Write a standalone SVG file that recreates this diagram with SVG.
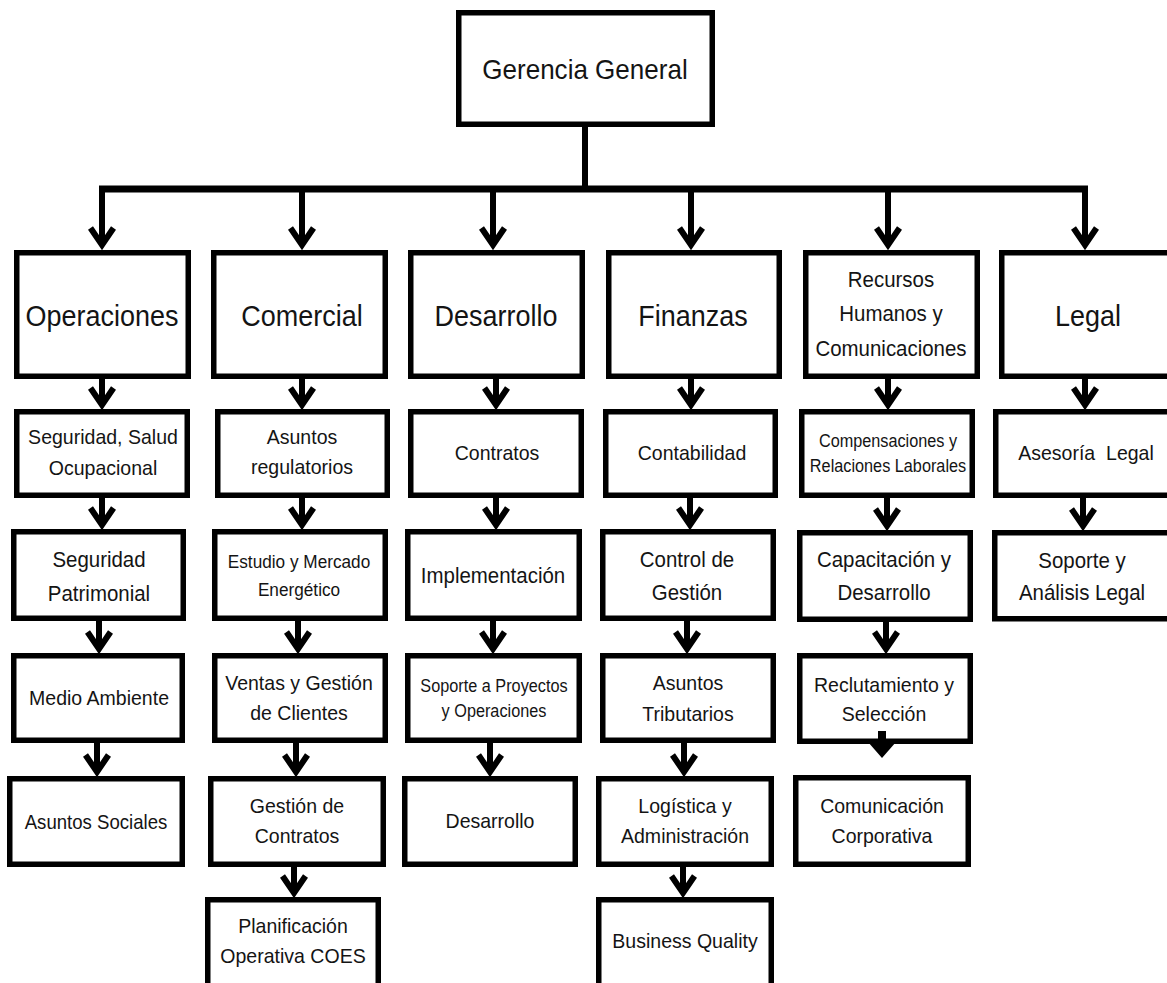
<svg xmlns="http://www.w3.org/2000/svg" width="1167" height="983" viewBox="0 0 1167 983">
  <style>
    .box { fill: #ffffff; stroke: #000000; stroke-width: 5.5; }
    .t { font-family: "Liberation Sans", Arial, sans-serif; fill: #141414; text-anchor: middle; }
    .f29 { font-size: 29px; }
    .f28 { font-size: 28px; }
    .f22 { font-size: 22px; }
    .f21 { font-size: 21px; }
    .f20 { font-size: 20px; }
    .f18 { font-size: 18.5px; }
    .f17 { font-size: 17.5px; }
    .bus { stroke: #000000; stroke-width: 7; fill: none; }
    .link { stroke: #000000; stroke-width: 6; fill: none; marker-end: url(#chev); }
  </style>
  <defs>
    <marker id="chev" markerUnits="userSpaceOnUse" orient="auto" refX="0" refY="0" markerWidth="30" markerHeight="30" viewBox="-20 -15 24 30" overflow="visible">
      <path d="M-17,-11.5 L0,0 L-17,11.5" fill="none" stroke="#000000" stroke-width="6"/>
    </marker>
  </defs>
  <rect width="1167" height="983" fill="#ffffff"/>

  <!-- top -->
  <g id="gerencia-general">
    <rect class="box" x="458.75" y="12.75" width="253.5" height="111.5"/>
    <text class="t f28" transform="translate(585 79) scale(.93 1)">Gerencia General</text>
  </g>

  <!-- level 1 -->
  <g id="operaciones">
    <rect class="box" x="16.75" y="252.75" width="171.5" height="123.5"/>
    <text class="t f29" transform="translate(102 326) scale(.93 1)">Operaciones</text>
  </g>
  <g id="comercial">
    <rect class="box" x="213.75" y="252.75" width="171.5" height="123.5"/>
    <text class="t f29" transform="translate(302 326) scale(.93 1)">Comercial</text>
  </g>
  <g id="desarrollo">
    <rect class="box" x="410.75" y="252.75" width="171.5" height="123.5"/>
    <text class="t f29" transform="translate(496 326) scale(.93 1)">Desarrollo</text>
  </g>
  <g id="finanzas">
    <rect class="box" x="608.75" y="252.75" width="170.5" height="123.5"/>
    <text class="t f29" transform="translate(693 326) scale(.93 1)">Finanzas</text>
  </g>
  <g id="rrhh">
    <rect class="box" x="805.75" y="252.75" width="171.5" height="123.5"/>
    <text class="t f22" transform="translate(891 287) scale(.93 1)"><tspan x="0">Recursos</tspan><tspan x="0" dy="34.5">Humanos y</tspan><tspan x="0" dy="34.5">Comunicaciones</tspan></text>
  </g>
  <g id="legal">
    <rect class="box" x="1001.75" y="252.75" width="171.5" height="123.5"/>
    <text class="t f29" transform="translate(1088 326) scale(.93 1)">Legal</text>
  </g>

  <!-- level 2 -->
  <g id="seguridad-salud">
    <rect class="box" x="16.75" y="411.75" width="170.5" height="83.5"/>
    <text class="t f21" transform="translate(103 444) scale(.93 1)"><tspan x="0">Seguridad, Salud</tspan><tspan x="0" dy="31">Ocupacional</tspan></text>
  </g>
  <g id="asuntos-regulatorios">
    <rect class="box" x="217.75" y="411.75" width="169.5" height="83.5"/>
    <text class="t f21" transform="translate(302 444) scale(.93 1)"><tspan x="0">Asuntos</tspan><tspan x="0" dy="30">regulatorios</tspan></text>
  </g>
  <g id="contratos">
    <rect class="box" x="410.75" y="411.75" width="170.5" height="83.5"/>
    <text class="t f21" transform="translate(497 460) scale(.93 1)">Contratos</text>
  </g>
  <g id="contabilidad">
    <rect class="box" x="605.75" y="411.75" width="169.5" height="83.5"/>
    <text class="t f21" transform="translate(692 460) scale(.93 1)">Contabilidad</text>
  </g>
  <g id="compensaciones">
    <rect class="box" x="801.75" y="411.75" width="170.5" height="83.5"/>
    <text class="t f17" transform="translate(888 447) scale(.93 1)"><tspan x="0">Compensaciones y</tspan><tspan x="0" dy="25">Relaciones Laborales</tspan></text>
  </g>
  <g id="asesoria-legal">
    <rect class="box" x="995.75" y="411.75" width="175" height="83.5"/>
    <text class="t f21" transform="translate(1086 460) scale(.93 1)" style="white-space:pre">Asesoría  Legal</text>
  </g>

  <!-- level 3 -->
  <g id="seguridad-patrimonial">
    <rect class="box" x="13.75" y="531.75" width="169.5" height="86.5"/>
    <text class="t f22" transform="translate(99 567) scale(.93 1)"><tspan x="0">Seguridad</tspan><tspan x="0" dy="34">Patrimonial</tspan></text>
  </g>
  <g id="estudio-mercado">
    <rect class="box" x="214.75" y="531.75" width="170.5" height="86.5"/>
    <text class="t f18" transform="translate(299 568) scale(.93 1)"><tspan x="0">Estudio y Mercado</tspan><tspan x="0" dy="28">Energético</tspan></text>
  </g>
  <g id="implementacion">
    <rect class="box" x="407.75" y="531.75" width="171.5" height="86.5"/>
    <text class="t f22" transform="translate(493 583) scale(.93 1)">Implementación</text>
  </g>
  <g id="control-gestion">
    <rect class="box" x="602.75" y="531.75" width="170.5" height="86.5"/>
    <text class="t f22" transform="translate(687 567) scale(.93 1)"><tspan x="0">Control de</tspan><tspan x="0" dy="33">Gestión</tspan></text>
  </g>
  <g id="capacitacion">
    <rect class="box" x="799.75" y="532.75" width="170.5" height="86.5"/>
    <text class="t f22" transform="translate(884 567) scale(.93 1)"><tspan x="0">Capacitación y</tspan><tspan x="0" dy="33">Desarrollo</tspan></text>
  </g>
  <g id="soporte-analisis-legal">
    <rect class="box" x="994.75" y="532.75" width="176" height="86"/>
    <text class="t f22" transform="translate(1082 568) scale(.93 1)"><tspan x="0">Soporte y</tspan><tspan x="0" dy="32">Análisis Legal</tspan></text>
  </g>

  <!-- level 4 -->
  <g id="medio-ambiente">
    <rect class="box" x="13.75" y="655.75" width="168.5" height="84.5"/>
    <text class="t f21" transform="translate(99 705) scale(.93 1)">Medio Ambiente</text>
  </g>
  <g id="ventas">
    <rect class="box" x="214.75" y="655.75" width="170.5" height="84.5"/>
    <text class="t f21" transform="translate(299 690) scale(.93 1)"><tspan x="0">Ventas y Gestión</tspan><tspan x="0" dy="30">de Clientes</tspan></text>
  </g>
  <g id="soporte-proyectos">
    <rect class="box" x="407.75" y="655.75" width="171.5" height="84.5"/>
    <text class="t f17" transform="translate(494 692) scale(.93 1)"><tspan x="0">Soporte a Proyectos</tspan><tspan x="0" dy="25">y Operaciones</tspan></text>
  </g>
  <g id="asuntos-tributarios">
    <rect class="box" x="602.75" y="655.75" width="170.5" height="84.5"/>
    <text class="t f21" transform="translate(688 690) scale(.93 1)"><tspan x="0">Asuntos</tspan><tspan x="0" dy="31">Tributarios</tspan></text>
  </g>
  <g id="reclutamiento">
    <rect class="box" x="799.75" y="655.75" width="170.5" height="85.5"/>
    <text class="t f21" transform="translate(884 692) scale(.93 1)"><tspan x="0">Reclutamiento y</tspan><tspan x="0" dy="29">Selección</tspan></text>
  </g>

  <!-- level 5 -->
  <g id="asuntos-sociales">
    <rect class="box" x="9.75" y="778.75" width="172.5" height="85.5"/>
    <text class="t f20" transform="translate(96 829) scale(.93 1)">Asuntos Sociales</text>
  </g>
  <g id="gestion-contratos">
    <rect class="box" x="210.75" y="778.75" width="172.5" height="85.5"/>
    <text class="t f21" transform="translate(297 813) scale(.93 1)"><tspan x="0">Gestión de</tspan><tspan x="0" dy="30">Contratos</tspan></text>
  </g>
  <g id="desarrollo-sub">
    <rect class="box" x="404.75" y="778.75" width="170.5" height="85.5"/>
    <text class="t f21" transform="translate(490 828) scale(.93 1)">Desarrollo</text>
  </g>
  <g id="logistica">
    <rect class="box" x="598.75" y="778.75" width="172.5" height="85.5"/>
    <text class="t f21" transform="translate(685 813) scale(.93 1)"><tspan x="0">Logística y</tspan><tspan x="0" dy="30">Administración</tspan></text>
  </g>
  <g id="comunicacion-corporativa">
    <rect class="box" x="795.75" y="777.75" width="172.5" height="86.5"/>
    <text class="t f21" transform="translate(882 813) scale(.93 1)"><tspan x="0">Comunicación</tspan><tspan x="0" dy="30">Corporativa</tspan></text>
  </g>

  <!-- level 6 -->
  <g id="planificacion-coes">
    <rect class="box" x="207.75" y="899.75" width="170.5" height="92"/>
    <text class="t f21" transform="translate(293 933) scale(.93 1)"><tspan x="0">Planificación</tspan><tspan x="0" dy="30">Operativa COES</tspan></text>
  </g>
  <g id="business-quality">
    <rect class="box" x="598.75" y="899.75" width="172.5" height="92"/>
    <text class="t f21" transform="translate(685 948) scale(.93 1)">Business Quality</text>
  </g>

  <!-- connectors, drawn over the boxes -->
  <g id="connectors">
    <path class="bus" d="M585,127 V189" style="stroke-width:6"/>
    <path class="bus" d="M99,189 H1088"/>
    <path class="link" d="M102,186 V245"/>
    <path class="link" d="M302,186 V245"/>
    <path class="link" d="M493,186 V245"/>
    <path class="link" d="M691,186 V245"/>
    <path class="link" d="M888,186 V245"/>
    <path class="link" d="M1085,186 V245"/>

    <!-- Operaciones column -->
    <path class="link" d="M102,379 V405"/>
    <path class="link" d="M102,498 V525"/>
    <path class="link" d="M99,621 V649"/>
    <path class="link" d="M97,743 V772"/>
    <!-- Comercial column -->
    <path class="link" d="M302,379 V405"/>
    <path class="link" d="M302,498 V525"/>
    <path class="link" d="M298,621 V649"/>
    <path class="link" d="M296,743 V772"/>
    <path class="link" d="M294,867 V893"/>
    <!-- Desarrollo column -->
    <path class="link" d="M496,379 V405"/>
    <path class="link" d="M496,498 V525"/>
    <path class="link" d="M493,621 V649"/>
    <path class="link" d="M490,743 V772"/>
    <!-- Finanzas column -->
    <path class="link" d="M691,379 V405"/>
    <path class="link" d="M690,498 V525"/>
    <path class="link" d="M687,621 V649"/>
    <path class="link" d="M684,743 V772"/>
    <path class="link" d="M683,867 V893"/>
    <!-- RRHH column -->
    <path class="link" d="M888,379 V405"/>
    <path class="link" d="M887,498 V526"/>
    <path class="link" d="M886,622 V649"/>
    <polygon points="878,731 886,731 886,742 896,742 882,758 868,742 878,742" fill="#000000"/>
    <!-- Legal column -->
    <path class="link" d="M1085,379 V405"/>
    <path class="link" d="M1083,498 V526"/>
  </g>
</svg>
